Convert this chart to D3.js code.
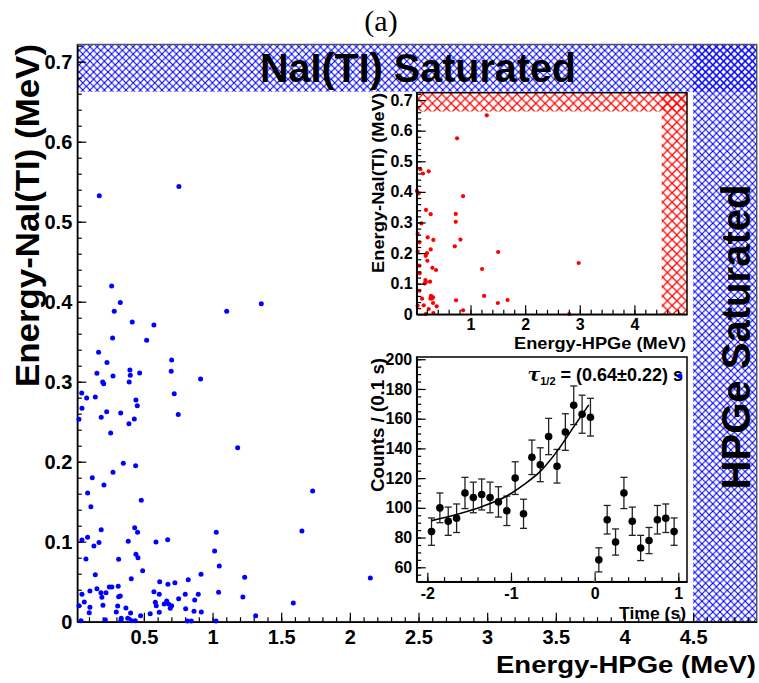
<!DOCTYPE html>
<html><head><meta charset="utf-8">
<script src="https://cdn.jsdelivr.net/npm/d3@7"></script>
<style>
body{margin:0;background:#fff}
text{font-family:"Liberation Sans",Arial,Helvetica,sans-serif;font-weight:bold;fill:#000}
</style></head>
<body><svg id="c" width="759" height="683"></svg>
<script>
// ---------------- data ----------------
// main scatter (blue): Energy-HPGe (MeV), Energy-NaI(Tl) (MeV)
const mainE = [0.755,0.175,0.265,0.328,0.284,1.103,0.415,0.573,0.272,0.52,0.170,0.231,0.702,0.158,0.275,0.398,0.401,0.469,0.699,0.913,0.2,0.207,0.393,0.047,0.083,0.146,0.721,0.442,
0.452,0.049,0.027,0.189,0.229,0.331,0.43,0.391,0.75,0.258,1.183,0.35,0.44,0.275,0.124,0.209,0.09,0.481,0.114,0.433,0.189,0.454,1.027,0.09,0.049,0.673,0.173,0.386,0.588,0.136,1.015,0.442,0.457,0.078,0.316,1.049,0.491,0.146,0.916,0.408,0.823,0.615,0.675,0.726,0.313,0.248,0.267,0.158,0.107,0.573,1.044,0.187,0.224,0.049,0.612,0.801,0.896,0.194,0.328,0.316,0.753,0.87,0.066,0.583,0.666,0.648,0.68,0.702,0.692,0.59,0.202,0.027,0.107,0.309,0.369,0.804,0.299,0.403,0.102,0.612,0.546,0.865,0.918,0.476,0.335,0.382,0.333,0.437,0.41,0.042,0.219,0.816,0.845,1.025,
1.355,1.729,1.651,1.234,2.149,1.221,1.588,1.314,4.404];
const mainN = [0.544,0.5325,0.4196,0.399,0.388,0.388,0.3746,0.371,0.3546,0.3517,0.3367,0.324,0.327,0.3105,0.307,0.3146,0.308,0.311,0.313,0.3034,0.2996,0.2975,0.2996,0.286,0.2796,0.281,0.285,0.277,
0.27,0.2667,0.253,0.2555,0.2625,0.261,0.2534,0.2475,0.259,0.236,0.2175,0.198,0.195,0.1867,0.18,0.171,0.161,0.1517,0.1437,0.1175,0.115,0.1117,0.1117,0.1055,0.102,0.1025,0.099,0.1005,0.0996,0.0946,0.0884,0.0842,0.08,0.0784,0.078,0.0696,0.0638,0.0588,0.0592,0.0538,0.0525,0.05,0.0467,0.0488,0.0442,0.0434,0.0434,0.0413,0.0384,0.0375,0.0367,0.0363,0.0363,0.0342,0.0342,0.0342,0.0342,0.0305,0.0321,0.0313,0.0288,0.0271,0.0246,0.0242,0.0259,0.0221,0.0221,0.02,0.0167,0.02,0.0205,0.02,0.018,0.0196,0.0171,0.0163,0.0121,0.0109,0.0113,0.0117,0.01,0.013,0.0121,0.0075,0.0042,0.0042,0.0017,0.0013,0.0013,0.0013,0.0025,0.001,0.001,0.001,
0.3975,0.1634,0.1134,0.0555,0.0546,0.0309,0.0234,0.0075,0.307];

// inset scatter (red)
const insetE = [1.298,0.754,0.082,0.235,0.13,0.02,0.051,0.864,0.185,0.271,0.73,0.1,0.73,0.033,0.216,0.32,0.816,0.064,0.712,0.271,1.506,0.033,0.204,0.18,0.21,0.064,2.98,0.302,0.369,1.212,0.07,0.174,0.185,0.161,0.259,0.064,0.277,0.296,0.266,0.314,1.249,0.112,0.735,1.5,1.678,0.314,0.033,0.143,0.235,0.381,0.864,0.18,0.32,2.808];
const insetN = [0.65,0.575,0.474,0.467,0.46,0.403,0.395,0.386,0.341,0.327,0.328,0.297,0.302,0.263,0.2515,0.243,0.244,0.235,0.222,0.212,0.2035,0.2045,0.2,0.191,0.175,0.159,0.1676,0.152,0.1447,0.148,0.134,0.112,0.1055,0.101,0.1066,0.077,0.06,0.052,0.051,0.0555,0.06,0.051,0.0457,0.037,0.0467,0.037,0.028,0.0294,0.0173,0.026,0.013,0.001,0.004,0.001];

// time histogram
const timeBins = [-1.95,-1.85,-1.75,-1.65,-1.55,-1.45,-1.35,-1.25,-1.15,-1.05,-0.95,-0.85,-0.75,-0.65,-0.55,-0.45,-0.35,-0.25,-0.15,-0.05,0.05,0.15,0.25,0.35,0.45,0.55,0.65,0.75,0.85,0.95];
const counts   = [84,100,91,93,110,107,109,107,104,98,120,96,134,129,148,128,151,169,163,161,65,92,77,110,91,73,78,92,93,84];
const countErr = [9.2,10,9.5,9.6,10.5,10.3,10.4,10.3,10.2,9.9,11,9.8,11.6,11.4,12.2,11.3,12.3,13,12.8,12.7,8.1,9.6,8.8,10.5,9.5,8.5,8.8,9.6,9.6,9.2];
// fit curve
const fitT = [-1.95,-1.65,-1.35,-1.05,-0.85,-0.65,-0.45,-0.25,-0.07];
const fitY = [91.4,95.5,100.8,108,115.5,124.5,138,154.5,169.3];

// saturation limits
const satNaI = 0.6625, satHPGe = 4.5;

// ticks
const mainXMajor = [0.5,1,1.5,2,2.5,3,3.5,4,4.5];
const mainXLabels = ["0.5","1","1.5","2","2.5","3","3.5","4","4.5"];
const mainYMajor = [0,0.1,0.2,0.3,0.4,0.5,0.6,0.7];
const mainYLabels = ["0","0.1","0.2","0.3","0.4","0.5","0.6","0.7"];
const insXMajor = [1,2,3,4];
const insXLabels = ["1","2","3","4"];
const timeMajor = [-2,-1,0,1];
const timeLabels = ["-2","-1","0","1"];
const cntMajor = [60,80,100,120,140,160,180,200];
const cntLabels = ["60","80","100","120","140","160","180","200"];

// ---------------- drawing ----------------
const svg = d3.select('#c');
const defs = svg.append('defs');
function hatch(id,color,s,w){
  const p = defs.append('pattern').attr('id',id).attr('patternUnits','userSpaceOnUse')
    .attr('width',s).attr('height',s);
  p.append('path').attr('d',`M0,0L${s},${s}M0,${s}L${s},0`)
    .attr('stroke',color).attr('stroke-width',w).attr('fill','none');
}
hatch('hb','#0000ff',7.2,1.1);
hatch('hr','#ff0000',9.4,1.2);

function range(a,b,st){const r=[];for(let v=a;v<=b+1e-9;v+=st)r.push(+v.toFixed(6));return r;}

function drawAxes(g,x,y,o){
  const [x0,x1]=x.range(), [y0,y1]=y.range();
  g.append('rect').attr('x',x0).attr('y',y1).attr('width',x1-x0).attr('height',y0-y1)
    .attr('fill',o.fill||'none').attr('stroke',o.frame).attr('stroke-width',1.5);
  g.append('g').attr('transform',`translate(0,${y0})`)
    .call(d3.axisBottom(x).tickValues(o.xMinor).tickSizeInner(-4.5).tickSizeOuter(0).tickFormat(''))
    .call(s=>s.select('.domain').remove());
  g.append('g').attr('transform',`translate(${x0},0)`)
    .call(d3.axisLeft(y).tickValues(o.yMinor).tickSizeInner(-4.5).tickSizeOuter(0).tickFormat(''))
    .call(s=>s.select('.domain').remove());
  const gx = g.append('g').attr('transform',`translate(0,${y0})`)
    .call(d3.axisBottom(x).tickValues(o.xMajor).tickSizeInner(-9).tickSizeOuter(0)
      .tickPadding(o.xPad).tickFormat((d,i)=>o.xLabels[i]));
  const gy = g.append('g').attr('transform',`translate(${x0},0)`)
    .call(d3.axisLeft(y).tickValues(o.yMajor).tickSizeInner(-9).tickSizeOuter(0)
      .tickPadding(o.yPad).tickFormat((d,i)=>o.yLabels[i]));
  [gx,gy].forEach(a=>{
    a.attr('font-family',null).attr('font-size',null);
    a.selectAll('text').style('font-size',o.fs+'px');
    a.select('.domain').attr('stroke','#000').attr('stroke-width',1.5);
  });
  g.selectAll('.tick line').attr('stroke','#000').attr('stroke-width',1.2);
}

// ----- main -----
const x = d3.scaleLinear().domain([0.015,4.963]).range([77.3,756.7]);
const y = d3.scaleLinear().domain([0,0.7215]).range([621.7,44.5]);
const gm = svg.append('g');
gm.append('rect').attr('x',x(0.015)).attr('y',y(0.7215)).attr('width',x(4.963)-x(0.015))
  .attr('height',y(satNaI)-y(0.7215)).attr('fill','url(#hb)');
gm.append('rect').attr('x',x(satHPGe)).attr('y',y(0.7215)).attr('width',x(4.963)-x(satHPGe))
  .attr('height',y(0)-y(0.7215)).attr('fill','url(#hb)');
drawAxes(gm,x,y,{frame:'#555',xMajor:mainXMajor,xLabels:mainXLabels,yMajor:mainYMajor,yLabels:mainYLabels,
  xMinor:range(0.1,4.9,0.1),yMinor:range(0.02,0.72,0.02),xPad:8,yPad:5,fs:20});

svg.append('text').attr('x',418).attr('y',82).attr('text-anchor','middle')
  .style('font-size','40px').attr('textLength',316).attr('lengthAdjust','spacingAndGlyphs').text('NaI(TI) Saturated');
svg.append('text').attr('transform','translate(750,337) rotate(-90)').attr('text-anchor','middle')
  .style('font-size','40px').attr('textLength',305).attr('lengthAdjust','spacingAndGlyphs').text('HPGe Saturated');
svg.append('text').attr('x',756).attr('y',673).attr('text-anchor','end')
  .style('font-size','24px').attr('textLength',260).attr('lengthAdjust','spacingAndGlyphs').text('Energy-HPGe (MeV)');
svg.append('text').attr('transform','translate(39,44) rotate(-90)').attr('text-anchor','end')
  .style('font-size','33px').attr('textLength',343).attr('lengthAdjust','spacingAndGlyphs').text('Energy-NaI(TI) (MeV)');
svg.append('text').attr('x',381).attr('y',31).attr('text-anchor','middle')
  .style('font-family','"Liberation Serif","DejaVu Serif",serif').style('font-weight','normal').style('font-size','30px').text('(a)');

// ----- inset 1 -----
const x1 = d3.scaleLinear().domain([0.015,4.963]).range([416.7,687]);
const y1 = d3.scaleLinear().domain([0,0.724]).range([314.3,92.7]);
const g1 = svg.append('g');
g1.append('rect').attr('x',416.7).attr('y',92.7).attr('width',270.3).attr('height',221.6).attr('fill','#fff');
g1.append('rect').attr('x',x1(0.015)).attr('y',y1(0.724)).attr('width',x1(4.963)-x1(0.015))
  .attr('height',y1(satNaI)-y1(0.724)).attr('fill','url(#hr)');
g1.append('rect').attr('x',x1(satHPGe)).attr('y',y1(0.724)).attr('width',x1(4.963)-x1(satHPGe))
  .attr('height',y1(0)-y1(0.724)).attr('fill','url(#hr)');
g1.selectAll('circle').data(insetE).join('circle')
  .attr('cx',d=>x1(d)).attr('cy',(d,i)=>y1(insetN[i])).attr('r',2.1).attr('fill','#ff0000');
drawAxes(g1,x1,y1,{frame:'#000',xMajor:insXMajor,xLabels:insXLabels,yMajor:mainYMajor,yLabels:mainYLabels,
  xMinor:range(0.2,4.8,0.2),yMinor:range(0.02,0.72,0.02),xPad:4,yPad:4,fs:16});
svg.append('text').attr('x',686).attr('y',349).attr('text-anchor','end')
  .style('font-size','17px').attr('textLength',172).attr('lengthAdjust','spacingAndGlyphs').text('Energy-HPGe (MeV)');
svg.append('text').attr('transform','translate(384,93) rotate(-90)').attr('text-anchor','end')
  .style('font-size','17px').attr('textLength',180).attr('lengthAdjust','spacingAndGlyphs').text('Energy-NaI(TI) (MeV)');

// ----- inset 2 -----
const xt = d3.scaleLinear().domain([-2.127,1.104]).range([416.7,687]);
const yt = d3.scaleLinear().domain([50.3,201.5]).range([581.7,357]);
const g2 = svg.append('g');
g2.append('rect').attr('x',416.7).attr('y',357).attr('width',270.3).attr('height',224.7).attr('fill','#fff');
drawAxes(g2,xt,yt,{frame:'#000',xMajor:timeMajor,xLabels:timeLabels,yMajor:cntMajor,yLabels:cntLabels,
  xMinor:range(-2,1,0.2),yMinor:range(55,200,5),xPad:6,yPad:4.5,fs:16});
g2.append('line').attr('x1',xt(0)).attr('x2',xt(0)).attr('y1',yt(50.3)).attr('y2',yt(57))
  .attr('stroke','#888').attr('stroke-width',1.2);
const eb = g2.append('g').attr('stroke','#222').attr('stroke-width',1.3);
timeBins.forEach((t,i)=>{
  const lo=counts[i]-countErr[i], hi=counts[i]+countErr[i];
  eb.append('line').attr('x1',xt(t)).attr('x2',xt(t)).attr('y1',yt(lo)).attr('y2',yt(hi));
  eb.append('line').attr('x1',xt(t)-3.5).attr('x2',xt(t)+3.5).attr('y1',yt(lo)).attr('y2',yt(lo));
  eb.append('line').attr('x1',xt(t)-3.5).attr('x2',xt(t)+3.5).attr('y1',yt(hi)).attr('y2',yt(hi));
});
g2.append('path').datum(fitT.map((t,i)=>[t,fitY[i]]))
  .attr('d',d3.line().x(d=>xt(d[0])).y(d=>yt(d[1])).curve(d3.curveMonotoneX))
  .attr('fill','none').attr('stroke','#000').attr('stroke-width',1.6);
g2.selectAll('circle.p').data(timeBins).join('circle').attr('class','p')
  .attr('cx',d=>xt(d)).attr('cy',(d,i)=>yt(counts[i])).attr('r',3.8).attr('fill','#000');
svg.append('text').attr('x',686).attr('y',619).attr('text-anchor','end')
  .style('font-size','17px').attr('textLength',67).attr('lengthAdjust','spacingAndGlyphs').text('Time (s)');
svg.append('text').attr('transform','translate(384,358) rotate(-90)').attr('text-anchor','end')
  .style('font-size','18px').attr('textLength',134).attr('lengthAdjust','spacingAndGlyphs').text('Counts / (0.1 s)');
const tau = svg.append('text').attr('x',683).attr('y',381).attr('text-anchor','end').style('font-size','18px');
tau.append('tspan').style('font-style','italic').style('font-family','"DejaVu Serif",serif').style('font-size','19px').text('τ');
tau.append('tspan').attr('dy',4).style('font-size','11px').text('1/2');
tau.append('tspan').attr('dy',-4).text(' = (0.64±0.22) s');

// ----- main points (on top) -----
svg.append('g').selectAll('circle').data(mainE).join('circle')
  .attr('cx',d=>x(d)).attr('cy',(d,i)=>y(mainN[i])).attr('r',2.5).attr('fill','#0000ff');
</script></body></html>
